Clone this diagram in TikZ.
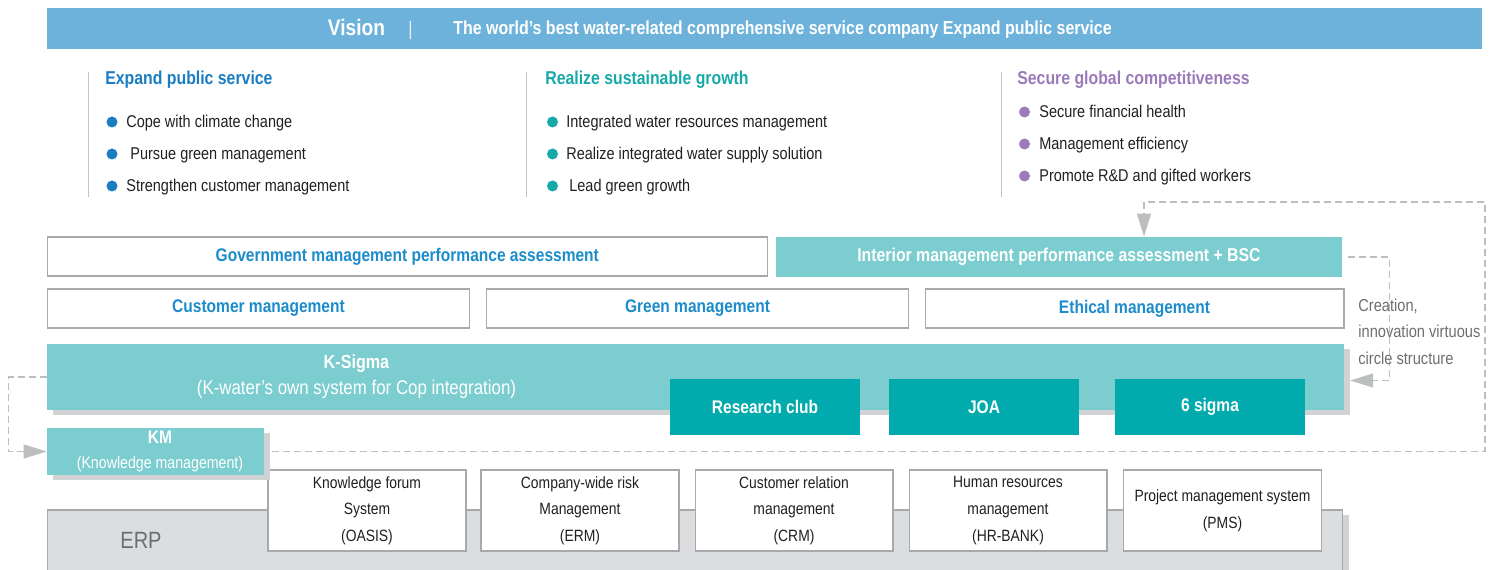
\documentclass[tikz,border=0pt]{standalone}
\usepackage{fontspec}
\setmainfont{Liberation Sans}[FakeStretch=0.85]
\usetikzlibrary{arrows.meta,shadows}

\definecolor{visionblue}{HTML}{6CB2DB}
\definecolor{headblue}{HTML}{1A7DC1}
\definecolor{headteal}{HTML}{17A9A8}
\definecolor{headpurple}{HTML}{9B7AB9}
\definecolor{boxblue}{HTML}{1C8CCB}
\definecolor{lightteal}{HTML}{7BCDCF}
\definecolor{darkteal}{HTML}{00AAAD}
\definecolor{erpgray}{HTML}{DCDDDF}
\definecolor{shadowgray}{HTML}{D1D2D4}
\definecolor{loopgray}{HTML}{BCBEC0}
\definecolor{framegray}{HTML}{A7A9AC}
\definecolor{textgray}{HTML}{6D6E71}
\definecolor{itemblack}{HTML}{231F20}

\tikzset{
  vbar/.style={fill=visionblue, minimum width=28.7cm, minimum height=0.82cm, inner sep=0pt},
  plainbox/.style={draw=framegray, line width=0.6pt, fill=white, minimum height=0.78cm,
    inner sep=0pt, text=boxblue, font=\fontsize{10.4}{12}\selectfont\bfseries},
  tealbox/.style={fill=lightteal, minimum height=0.8cm, inner sep=0pt, text=white,
    font=\fontsize{10.6}{12}\selectfont\bfseries},
  darkbox/.style={fill=darkteal, minimum width=3.8cm, minimum height=1.12cm, inner sep=0pt,
    text=white, font=\fontsize{10.4}{12}\selectfont\bfseries},
  subbox/.style={draw=framegray, line width=0.6pt, fill=white, minimum width=3.96cm,
    minimum height=1.62cm, inner sep=0pt, align=center, text=itemblack,
    font=\fontsize{9.3}{15.2}\selectfont},
  boxshadow/.style={general shadow={fill=shadowgray, shadow xshift=0.12cm, shadow yshift=-0.1cm}},
  heading/.style={anchor=base west, inner sep=0pt, font=\fontsize{10.6}{12}\selectfont\bfseries},
  item/.style={anchor=base west, inner sep=0pt, text=itemblack, font=\fontsize{9.7}{12}\selectfont},
  dot/.style={circle, inner sep=0pt, minimum size=0.22cm, fill=#1},
  loopline/.style={draw=loopgray, line width=0.7pt, dash pattern=on 0.14cm off 0.08cm,
    -{Triangle[length=0.46cm,width=0.28cm,fill=loopgray]}},
}

\begin{document}
\begin{tikzpicture}[x=0.02cm, y=-0.02cm]
  \useasboundingbox (0,0) rectangle (1497,570);

  % vision bar
  \node[vbar] (vision) at (764.5,28.5) {};
  \node[anchor=base, inner sep=0pt, text=white, font=\fontsize{12.8}{14}\selectfont\bfseries] (visionword) at (356.5,35.5) {Vision};
  \node[anchor=base, inner sep=0pt, text=white!80!visionblue, font=\fontsize{11}{12}\selectfont] (visionsep) at (410.5,35.5) {|};
  \node[anchor=base west, inner sep=0pt, text=white, font=\fontsize{10.7}{12}\selectfont\bfseries] (visiontext) at (453,35) {The world’s best water-related comprehensive service company Expand public service};

  % strategy columns
  \draw[framegray!70, line width=0.5pt] (88,72) -- (88,197);
  \draw[framegray!70, line width=0.5pt] (526,72) -- (526,197);
  \draw[framegray!70, line width=0.5pt] (1001,72) -- (1001,197);

  \node[heading, text=headblue] (publichead) at (105,85) {Expand public service};
  \node[dot=headblue] (pubdot1) at (112,122) {};
  \node[dot=headblue] (pubdot2) at (112,154) {};
  \node[dot=headblue] (pubdot3) at (112,186) {};
  \node[item] (pubitem1) at (126,128) {Cope with climate change};
  \node[item] (pubitem2) at (130,160) {Pursue green management};
  \node[item] (pubitem3) at (126,192) {Strengthen customer management};

  \node[heading, text=headteal] (growthhead) at (545,85) {Realize sustainable growth};
  \node[dot=headteal] (growdot1) at (552.5,122) {};
  \node[dot=headteal] (growdot2) at (552.5,154) {};
  \node[dot=headteal] (growdot3) at (552.5,186) {};
  \node[item] (growitem1) at (566,128) {Integrated water resources management};
  \node[item] (growitem2) at (566,160) {Realize integrated water supply solution};
  \node[item] (growitem3) at (569,192) {Lead green growth};

  \node[heading, text=headpurple] (globalhead) at (1017,85) {Secure global competitiveness};
  \node[dot=headpurple] (globdot1) at (1024.5,112) {};
  \node[dot=headpurple] (globdot2) at (1024.5,144) {};
  \node[dot=headpurple] (globdot3) at (1024.5,176) {};
  \node[item] (globitem1) at (1039,118) {Secure financial health};
  \node[item] (globitem2) at (1039,150) {Management efficiency};
  \node[item] (globitem3) at (1039,182) {Promote R\&D and gifted workers};

  % assessment and management rows
  \node[plainbox, minimum width=14.41cm] (govassess) at (407.3,256.5) {Government management performance assessment};
  \node[tealbox, minimum width=11.32cm] (interior) at (1059,257) {Interior management performance assessment + BSC};
  \node[plainbox, minimum width=8.46cm] (customer) at (258.5,308.5) {Customer management};
  \node[plainbox, minimum width=8.46cm] (green) at (697.5,308.5) {Green management};
  \node[plainbox, minimum width=8.38cm] (ethical) at (1134.5,308.5) {Ethical management};

  % K-Sigma
  \node[fill=lightteal, boxshadow, minimum width=25.94cm, minimum height=1.32cm, inner sep=0pt] (ksigma) at (695.5,377) {};
  \node[align=center, text=white, font=\fontsize{11.3}{14.8}\selectfont] (ksigmatext) at (356.5,376.5) {\textbf{\fontsize{10.8}{14.8}\selectfont K-Sigma}\\(K-water’s own system for Cop integration)};
  \node[darkbox] (research) at (765,407) {Research club};
  \node[darkbox] (joa) at (984,407) {JOA};
  \node[darkbox] (sixsigma) at (1210,407) {6 sigma};

  % ERP
  \node[draw=framegray, line width=0.6pt, fill=erpgray, boxshadow, minimum width=25.92cm, minimum height=1.6cm, inner sep=0pt] (erp) at (695,550) {};
  \node[text=textgray, font=\fontsize{13.4}{15}\selectfont] (erplabel) at (141,540) {ERP};
  \node[subbox] (oasis) at (367,510.5) {Knowledge forum\\System\\(OASIS)};
  \node[subbox] (erm) at (580,510.5) {Company-wide risk\\Management\\(ERM)};
  \node[subbox] (crm) at (794,510.5) {Customer relation\\management\\(CRM)};
  \node[subbox] (hrbank) at (1008,510.5) {Human resources\\management\\(HR-BANK)};
  \node[subbox] (pms) at (1222.5,510.5) {Project management system\\(PMS)};

  % KM
  \node[fill=lightteal, boxshadow, minimum width=4.34cm, minimum height=0.94cm, inner sep=0pt] (km) at (155.5,451.5) {};
  \node[align=center, inner sep=0pt, text=white, font=\fontsize{9.5}{14.2}\selectfont] (kmtext) at (160,451.5) {\textbf{\fontsize{10.4}{14.2}\selectfont KM}\\(Knowledge management)};

  % virtuous circle
  \coordinate (loopturn) at (1485,202);
  \coordinate (loopdrop) at (1144,202);
  \draw[loopline] (ksigma.west) -- ++(-38,0) |- (km.west);
  \draw[loopline, shorten <=0.12cm, shorten >=0.12cm] (interior.east) -- ++(47,0) |- ([yshift=-0.07cm]ksigma.east);
  \draw[loopline, shorten <=0.16cm] (km.east) -- (km.east -| loopturn) -- (loopturn) -- (loopdrop) -- (loopdrop |- interior.north);

  \node[anchor=west, align=left, inner sep=0pt, text=textgray, font=\fontsize{9.8}{15.1}\selectfont] (circletext) at (1358,331.5) {Creation,\\innovation virtuous\\circle structure};
\end{tikzpicture}
\end{document}
